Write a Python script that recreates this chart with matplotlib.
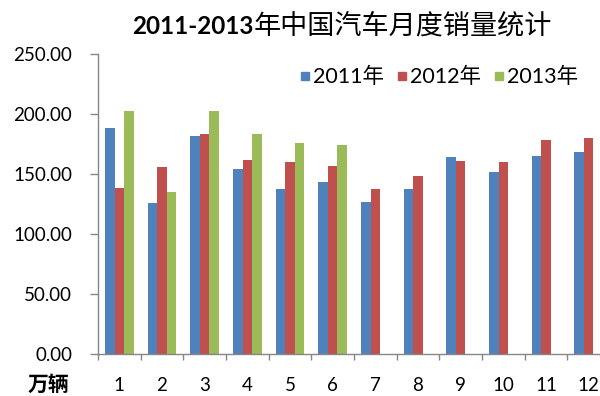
import numpy as np
import matplotlib
matplotlib.use('Agg')
import matplotlib.pyplot as plt
from matplotlib.lines import Line2D
from matplotlib.ticker import FixedLocator, FormatStrFormatter

# Monthly car sales in China (10k units).
months = ['1', '2', '3', '4', '5', '6', '7', '8', '9', '10', '11', '12']
sales_2011 = [188.8, 126.1, 182.2, 154.7, 137.7, 143.3, 126.9, 137.5, 164.2, 151.9, 165.3, 168.6]
sales_2012 = [138.3, 156.1, 183.6, 161.9, 160.3, 157.2, 137.5, 148.8, 161.1, 160.0, 178.6, 180.5]
sales_2013 = [202.8, 135.0, 202.8, 183.6, 175.8, 174.7]
series_names = ['2011年', '2012年', '2013年']
colors = ['#4F81BD', '#C0504D', '#9BBB59']

plt.rcParams['font.family'] = ['Lato', 'Noto Sans CJK SC']

W, H = 600, 396
fig = plt.figure(figsize=(6.0, 3.96), dpi=100)
# Plot area runs past the right edge, like the cropped original.
ax = fig.add_axes([98 / W, 41.7 / H, 512 / W, 300 / H])

x = np.arange(1, len(months) + 1)
bw = 0.222
all_series = [sales_2011, sales_2012, sales_2013]
for i, (vals, c) in enumerate(zip(all_series, colors)):
    xs = x[:len(vals)] + (i - 1) * bw
    ax.bar(xs, vals, width=bw, color=c, edgecolor='none')

ax.set_xlim(0.5, len(months) + 0.5)
ax.set_ylim(0, 250)
ax.set_yticks(np.arange(0, 251, 50))
ax.yaxis.set_major_formatter(FormatStrFormatter('%.2f'))
ax.set_xticks(x)
ax.set_xticklabels(months)
ax.xaxis.set_minor_locator(FixedLocator(np.arange(0.5, len(months) + 1, 1)))

for s in ['top', 'right']:
    ax.spines[s].set_visible(False)
for s in ['left', 'bottom']:
    ax.spines[s].set_color('#868686')
    ax.spines[s].set_linewidth(1.0)

ax.tick_params(axis='y', direction='out', length=5.5, width=1.0, color='#868686',
               labelsize=13.5, pad=13, labelcolor='black')
ax.tick_params(axis='x', which='major', length=0, labelsize=13.5, pad=16, labelcolor='black')
ax.tick_params(axis='x', which='minor', direction='out', length=4.5, width=1.0, color='#868686')

# Unit label below the y axis.
fig.text(48 / W, 1 - 384 / H, '万辆', family='Noto Sans CJK SC', fontweight='bold',
         fontsize=15, ha='center', va='center')

# Title: bold digits followed by regular Chinese text.
fig.canvas.draw()
renderer = fig.canvas.get_renderer()
base_y = 1 - 33.5 / H
t1 = fig.text(132 / W, base_y, '2011-2013', family='Lato', fontweight='bold',
              fontsize=17.5, ha='left', va='baseline')
ext = t1.get_window_extent(renderer=renderer)
fig.text(ext.x1 / W, base_y, '年中国汽车月度销量统计', family='Noto Sans CJK SC',
         fontsize=19.5, ha='left', va='baseline')

# Legend.
handles = [Line2D([], [], linestyle='', marker='s', markersize=6, color=c,
                  markeredgecolor=c) for c in colors]
ax.legend(handles, series_names, loc='center left', bbox_to_anchor=(300 / W, 1 - 77 / H),
          bbox_transform=fig.transFigure, ncol=3, frameon=False, fontsize=15.5,
          handlelength=0.45, handletextpad=0.15, columnspacing=0.6, borderpad=0,
          borderaxespad=0)

fig.savefig('out.png', dpi=100)
